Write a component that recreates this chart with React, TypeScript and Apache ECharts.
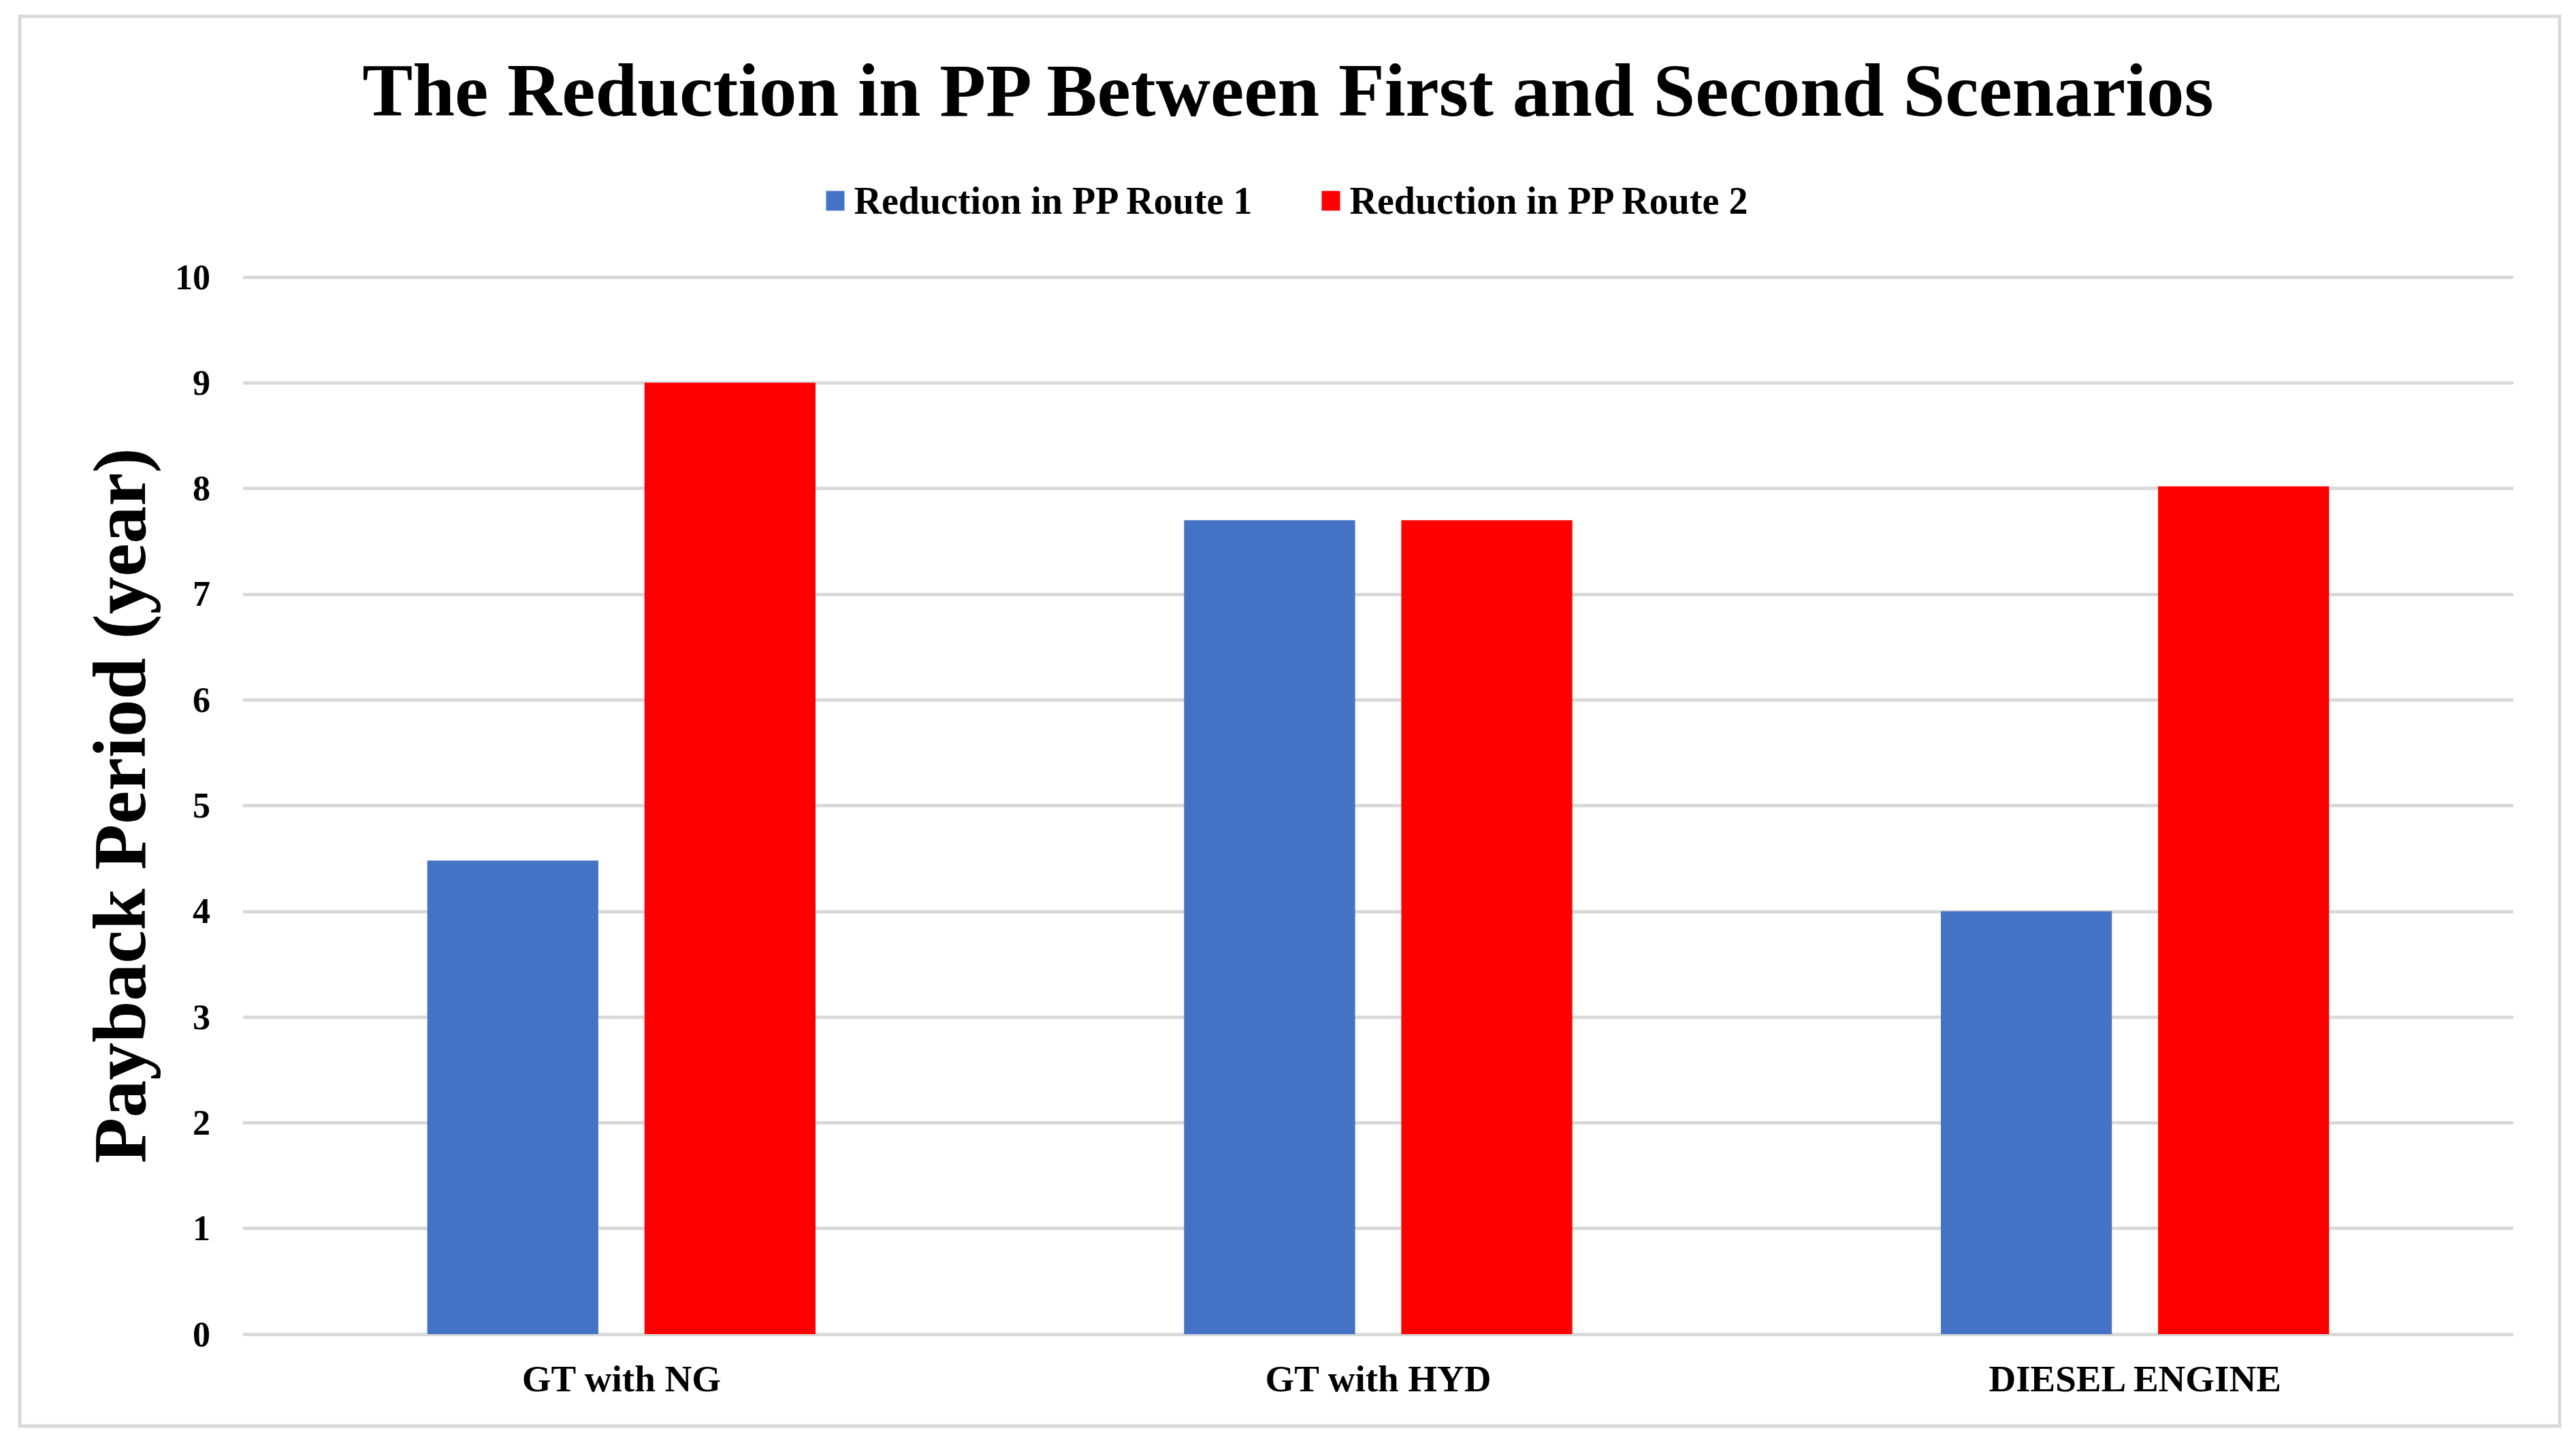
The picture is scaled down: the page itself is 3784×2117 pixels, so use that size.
import React, { useEffect, useRef } from "react";
import * as echarts from "echarts";

const categories = ["GT with NG", "GT with HYD", "DIESEL ENGINE"];
const route1 = [4.48, 7.7, 4.0];
const route2 = [9.0, 7.7, 8.02];
const seriesNames = ["Reduction in PP Route 1", "Reduction in PP Route 2"];
const yTicks = { min: 0, max: 10, interval: 1 };
const titleText = "The Reduction in PP Between First and Second Scenarios";
const yAxisName = "Payback Period (year)";

const FONT = "'Liberation Serif', 'Times New Roman', serif";

export default function App() {
  const ref = useRef<HTMLDivElement>(null);
  useEffect(() => {
    if (!ref.current) return;
    const chart = echarts.init(ref.current, undefined, { renderer: "svg" });
    chart.setOption({
      animation: false,
      backgroundColor: "#ffffff",
      title: {
        text: titleText,
        left: "center",
        top: 72,
        textStyle: { fontFamily: FONT, fontWeight: "bold", fontSize: 111, color: "#000" },
      },
      legend: {
        data: seriesNames,
        left: "center",
        top: 262,
        itemWidth: 27,
        itemHeight: 29,
        itemGap: 99,
        icon: "rect",
        textStyle: { fontFamily: FONT, fontWeight: "bold", fontSize: 56, color: "#000", padding: [0, 0, 0, 9] },
      },
      graphic: [
        {
          type: "rect",
          shape: { x: 29, y: 24, width: 3731, height: 2071 },
          style: { fill: "none", stroke: "#d9d9d9", lineWidth: 5 },
          silent: true,
        },
      ],
      grid: { left: 357, right: 92, top: 407, bottom: 157, containLabel: false },
      xAxis: {
        type: "category",
        data: categories,
        axisLine: { show: false },
        axisTick: { show: false },
        axisLabel: { fontFamily: FONT, fontWeight: "bold", fontSize: 55, color: "#000", margin: 38 },
      },
      yAxis: {
        type: "value",
        min: yTicks.min,
        max: yTicks.max,
        interval: yTicks.interval,
        name: yAxisName,
        nameLocation: "middle",
        nameGap: 126,
        nameTextStyle: { fontFamily: FONT, fontWeight: "bold", fontSize: 110, color: "#000" },
        axisLine: { show: false },
        axisTick: { show: false },
        axisLabel: { fontFamily: FONT, fontWeight: "bold", fontSize: 52, color: "#000", margin: 48 },
        splitLine: { lineStyle: { color: "#d9d9d9", width: 5 } },
      },
      series: [
        {
          name: seriesNames[0],
          type: "bar",
          data: route1,
          barWidth: "22.6%",
          barGap: "27%",
          itemStyle: { color: "#4472c4" },
        },
        {
          name: seriesNames[1],
          type: "bar",
          data: route2,
          barWidth: "22.6%",
          barGap: "27%",
          itemStyle: { color: "#ff0000" },
        },
      ],
    });
    return () => chart.dispose();
  }, []);
  return (
    <div
      ref={ref}
      style={{ position: "absolute", left: 0, top: 0, width: 3784, height: 2117 }}
    />
  );
}
